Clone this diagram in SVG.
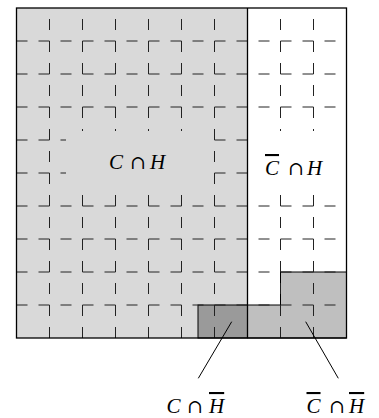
<svg xmlns="http://www.w3.org/2000/svg" width="379" height="418" viewBox="0 0 379 418">
<style>
.grid line{stroke:#222;stroke-width:1;stroke-dasharray:11 11;fill:none}
.box{stroke:#000;stroke-width:1}
.border{fill:none;stroke:#000;stroke-width:1.3}
.conn line{stroke:#000;stroke-width:1}
.lbl{font-family:"Liberation Serif","Times New Roman",serif;font-size:21px;fill:#000}
.it{font-style:italic}
.op{font-family:"DejaVu Serif",serif;font-size:19px;font-style:normal}
.ov{text-decoration:overline}
</style>
<rect width="379" height="418" fill="#fff"/>
<g id="region-C-H-fill"><rect x="16.5" y="8" width="231" height="330" fill="#d9d9d9"/></g>
<g id="region-notC-notH"><polygon class="box" points="247.5,305 280.5,305 280.5,272 346.5,272 346.5,338 247.5,338" fill="#bfbfbf"/></g>
<g id="region-C-notH"><rect class="box" x="198" y="305" width="49.5" height="33" fill="#9a9a9a"/></g>
<g class="grid" id="grid">
<line x1="49.5" y1="338" x2="49.5" y2="8"/>
<line x1="82.5" y1="338" x2="82.5" y2="8"/>
<line x1="115.5" y1="338" x2="115.5" y2="8"/>
<line x1="148.5" y1="338" x2="148.5" y2="8"/>
<line x1="181.5" y1="338" x2="181.5" y2="8"/>
<line x1="214.5" y1="338" x2="214.5" y2="8"/>
<line x1="247.5" y1="338" x2="247.5" y2="8"/>
<line x1="280.5" y1="338" x2="280.5" y2="8"/>
<line x1="313.5" y1="338" x2="313.5" y2="8"/>
<line x1="16.5" y1="41" x2="346.5" y2="41"/>
<line x1="16.5" y1="74" x2="346.5" y2="74"/>
<line x1="16.5" y1="107" x2="346.5" y2="107"/>
<line x1="16.5" y1="140" x2="346.5" y2="140"/>
<line x1="16.5" y1="173" x2="346.5" y2="173"/>
<line x1="16.5" y1="206" x2="346.5" y2="206"/>
<line x1="16.5" y1="239" x2="346.5" y2="239"/>
<line x1="16.5" y1="272" x2="346.5" y2="272"/>
<line x1="16.5" y1="305" x2="346.5" y2="305"/>
</g>
<g id="label-C-H">
<rect x="66" y="131" width="146" height="62" fill="#d9d9d9"/>
<text class="lbl" y="169"><tspan class="it" x="109">C</tspan><tspan class="op" x="130">∩</tspan><tspan class="it" x="150">H</tspan></text>
</g>
<g id="label-notC-H">
<rect x="249" y="131" width="96" height="64" fill="#fff"/>
<text class="lbl" y="175"><tspan class="it ov" x="265">C</tspan><tspan class="op" x="288">∩</tspan><tspan class="it" x="307">H</tspan></text>
</g>
<g id="borders">
<rect class="border" x="16.5" y="8" width="330" height="330"/>
<line class="border" x1="247.5" y1="8" x2="247.5" y2="338"/>
</g>
<g class="conn" id="connectors">
<line x1="231.7" y1="321.7" x2="198.3" y2="378.3"/>
<line x1="305.7" y1="321.7" x2="338.3" y2="378.3"/>
</g>
<g id="label-C-notH">
<text class="lbl" y="413"><tspan class="it" x="166.5">C</tspan><tspan class="op" x="187">∩</tspan><tspan class="it ov" x="209">H</tspan></text>
</g>
<g id="label-notC-notH">
<text class="lbl" y="413"><tspan class="it ov" x="306.5">C</tspan><tspan class="op" x="329">∩</tspan><tspan class="it ov" x="349">H</tspan></text>
</g>
</svg>
